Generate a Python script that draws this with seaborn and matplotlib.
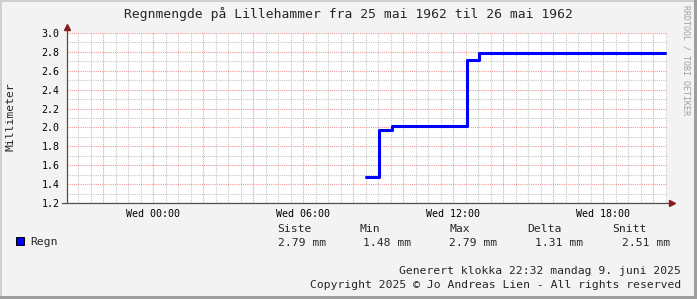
import matplotlib
matplotlib.use("Agg")
import matplotlib.pyplot as plt
import seaborn as sns
import pandas as pd
import numpy as np
from matplotlib.patches import Rectangle

# ---- data ----
title = "Regnmengde på Lillehammer fra 25 mai 1962 til 26 mai 1962"
y_label = "Millimeter"
series_name = "Regn"
times_h = [8.52, 9.03, 9.57, 12.55, 13.04, 20.48]   # hours relative to Wed 00:00
values_mm = [1.48, 1.97, 2.02, 2.71, 2.79, 2.79]
x_tick_pos = [0, 6, 12, 18]
x_tick_labels = ["Wed 00:00", "Wed 06:00", "Wed 12:00", "Wed 18:00"]
x_range = [-3.44, 20.56]
y_range = [1.2, 3.0]
stat_headers = ["Siste", "Min", "Max", "Delta", "Snitt"]
stat_values = ["2.79 mm", "1.48 mm", "2.79 mm", "1.31 mm", "2.51 mm"]
footer_lines = ["Generert klokka 22:32 mandag 9. juni 2025",
                "Copyright 2025 © Jo Andreas Lien - All rights reserved"]
watermark = "RRDTOOL / TOBI OETIKER"

# ---- style ----
sns.set_style("white")
plt.rcParams["font.family"] = ["DejaVu Sans Mono", "DejaVu Sans"]

W, H = 697, 299
fig = plt.figure(figsize=(W / 100, H / 100), dpi=100, facecolor="#f3f3f3")


def fx(px):
    return px / W


def fy(py):
    return 1 - py / H


ax = fig.add_axes([fx(67), fy(203), 600 / W, 170 / H])
ax.set_facecolor("white")

df = pd.DataFrame({"t": times_h, "v": values_mm})
sns.lineplot(data=df, x="t", y="v", ax=ax, drawstyle="steps-post",
             color="#0000ff", lw=2.2, estimator=None, sort=False, zorder=5)

ax.set_xlim(x_range)
ax.set_ylim(y_range)
ax.set_xlabel("")
ax.set_ylabel("")

xmaj = np.arange(-2, 20.01, 2)
ax.set_xticks(xmaj)
lab_map = dict(zip(x_tick_pos, x_tick_labels))
ax.set_xticklabels([lab_map.get(int(round(v)), "") for v in xmaj])
ax.set_xticks(np.arange(-3, 20.6, 0.5), minor=True)
ymaj = np.arange(1.2, 3.001, 0.2)
ax.set_yticks(ymaj)
ax.set_yticklabels([f"{v:.1f}" for v in ymaj])
ax.set_yticks(np.arange(1.3, 3.0, 0.2), minor=True)

ax.grid(which="major", color="#f09696", ls=(0, (1, 1)), lw=0.78)
ax.grid(which="minor", color="#c6c6c6", ls=(0, (1, 1)), lw=0.78)
ax.set_axisbelow(True)

ax.tick_params(axis="x", which="major", length=2.5, width=0.75, color="#505050",
               direction="out", pad=1.5, labelsize=7.2, labelcolor="black")
ax.tick_params(axis="y", which="major", length=3, width=0.75, color="#505050",
               direction="out", pad=2.4, labelsize=7.2, labelcolor="black")
ax.tick_params(which="minor", length=0)
for s in ax.spines.values():
    s.set_visible(False)

# axes lines with arrows
ax.plot([0, 0], [0, 1 + 4 / 170], transform=ax.transAxes, color="#505050",
        lw=0.9, clip_on=False, zorder=6)
ax.plot([-5 / 600, 1 + 3 / 600], [0, 0], transform=ax.transAxes, color="#505050",
        lw=0.9, clip_on=False, zorder=6)
ax.plot([0], [1 + 6 / 170], marker="^", ms=4.5, color="#8b1a1a",
        transform=ax.transAxes, clip_on=False, zorder=7)
ax.plot([1 + 5 / 600], [0], marker=">", ms=4.5, color="#8b1a1a",
        transform=ax.transAxes, clip_on=False, zorder=7)

# texts
fig.text(fx(348.5), fy(14), title, ha="center", va="center", fontsize=9.4)
fig.text(fx(11), fy(117), y_label, rotation=90, ha="center", va="center", fontsize=8.2)
fig.text(fx(686), fy(60), watermark, rotation=270, ha="center", va="center",
         fontsize=6, color="#a0a0a0")

# legend
fig.patches.append(Rectangle((fx(16), fy(245)), 8 / W, 8 / H, transform=fig.transFigure,
                             facecolor="#0000ff", edgecolor="black", lw=0.7))
fig.text(fx(30), fy(242), series_name, ha="left", va="center", fontsize=8.2)
hx = [277, 360, 450, 527, 612]
vx = [278, 363, 449, 535, 622]
for h, x in zip(stat_headers, hx):
    fig.text(fx(x), fy(229), h, ha="left", va="center", fontsize=8.2)
for v, x in zip(stat_values, vx):
    fig.text(fx(x), fy(243), v, ha="left", va="center", fontsize=8.2)
fig.text(fx(681), fy(271), footer_lines[0], ha="right", va="center", fontsize=8.2)
fig.text(fx(681), fy(285), footer_lines[1], ha="right", va="center", fontsize=8.2)

# border
fig.patches.append(Rectangle((0, 0), 2 / W, 1, transform=fig.transFigure, color="#cfcfcf", lw=0))
fig.patches.append(Rectangle((0, 1 - 2 / H), 1, 2 / H, transform=fig.transFigure, color="#cfcfcf", lw=0))
fig.patches.append(Rectangle((1 - 3 / W, 0), 3 / W, 1, transform=fig.transFigure, color="#9e9e9e", lw=0))
fig.patches.append(Rectangle((0, 0), 1, 3 / H, transform=fig.transFigure, color="#9e9e9e", lw=0))

fig.savefig("out.png", dpi=100, facecolor=fig.get_facecolor())
